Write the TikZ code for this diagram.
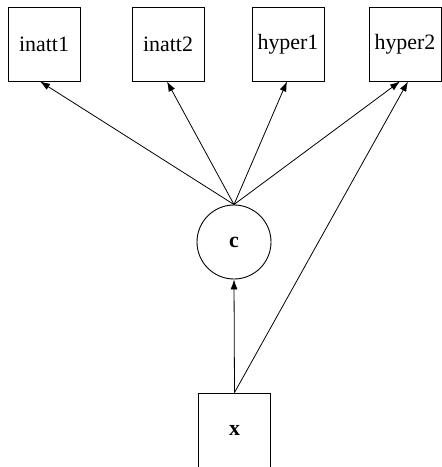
\documentclass[tikz,border=0pt]{standalone}
\usepackage{fontspec}
\setmainfont{Liberation Serif}
\usetikzlibrary{arrows.meta}

\begin{document}
\begin{tikzpicture}[x=1bp, y=-1bp]
\tikzstyle{indicator}=[draw, rectangle, line width=0.9bp, minimum width=72bp, minimum height=74bp, inner sep=0pt, font=\fontsize{22}{22}\selectfont]
\tikzstyle{latent}=[draw, circle, line width=0.9bp, minimum size=74bp, inner sep=0pt, font=\fontsize{22}{22}\selectfont\bfseries]
\tikzstyle{path}=[-{Latex[length=10bp, width=7bp]}, line width=0.8bp]

\useasboundingbox (0,0) rectangle (442,467);

\draw (44,44) node[indicator] (inatt1) {inatt1};
\draw (168,44) node[indicator] (inatt2) {inatt2};
\draw (288,44) node[indicator] (hyper1) {hyper1};
\draw (405,44) node[indicator] (hyper2) {hyper2};
\draw (234,242) node[latent] (c) {c};
\draw (234.5,433) node[indicator, minimum height=80bp, font=\fontsize{22}{22}\selectfont\bfseries] (x) {\raisebox{5bp}{x}};

\draw[path] (c.north) -- ([xshift=-4bp]inatt1.south);
\draw[path] (c.north) -- ([xshift=-1bp]inatt2.south);
\draw[path] (c.north) -- ([xshift=-1bp]hyper1.south);
\draw[path] (c.north) -- ([xshift=-5bp]hyper2.south);
\draw[path] (x.north) -- (c.south);
\draw[path] (x.north) -- ([xshift=3bp]hyper2.south);
\end{tikzpicture}
\end{document}
